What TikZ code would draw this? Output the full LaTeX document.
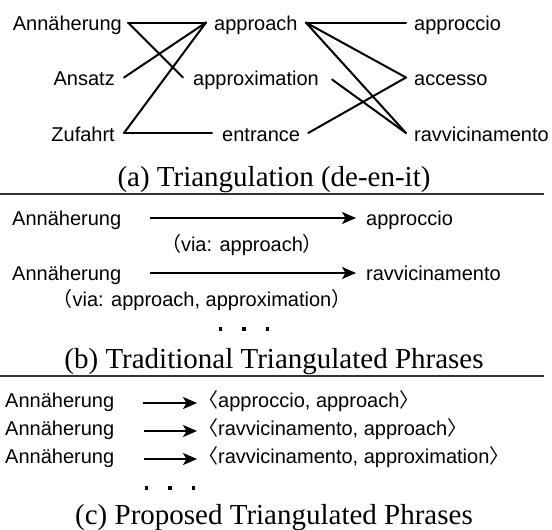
\documentclass[tikz,border=0pt]{standalone}
\usepackage{fontspec}
\setmainfont{Liberation Serif}
\setsansfont{Liberation Sans}
\newfontfamily\cjk{Noto Sans CJK JP}
\usetikzlibrary{arrows.meta}
\newcommand{\sqdot}{\rule{3.2pt}{3.2pt}}
\begin{document}
\begin{tikzpicture}[x=1pt,y=-1pt,
  word/.style={inner sep=0pt, font=\sffamily\fontsize{20}{24}\selectfont},
  captxt/.style={inner sep=0pt, anchor=base, font=\fontsize{29}{34}\selectfont},
  link/.style={line width=2pt, line cap=round},
  arr/.style={line width=2pt, -{Stealth[length=14pt,width=12pt,inset=3.5pt]}},
  rulel/.style={line width=1.2pt, black!80}]
\useasboundingbox (0,0) rectangle (552,530);
% ---------- (a) ----------
\node[word, anchor=base east] (ann) at (122,30.5) {Annäherung};
\node[word, anchor=base east] (ans) at (115,85.5) {Ansatz};
\node[word, anchor=base east] (zuf) at (115,141) {Zufahrt};
\node[word, anchor=base west] (appr) at (214,30.5) {approach};
\node[word, anchor=base west] (apx) at (193,85.5) {approximation};
\node[word, anchor=base west] (ent) at (222,141) {entrance};
\node[word, anchor=base west] (apc) at (414,30.5) {approccio};
\node[word, anchor=base west] (acc) at (414,85.5) {accesso};
\node[word, anchor=base west] (rav) at (414,141) {ravvicinamento};
\draw[link] ([xshift=6pt,yshift=8pt]ann.base east) -- ([xshift=-8pt,yshift=8pt]appr.base west);
\draw[link] ([xshift=6pt,yshift=8pt]ann.base east) -- ([xshift=-10pt,yshift=8pt]apx.base west);
\draw[link] ([xshift=9pt,yshift=8pt]ans.base east) -- ([xshift=-8pt,yshift=8pt]appr.base west);
\draw[link] ([xshift=9pt,yshift=8pt]zuf.base east) -- ([xshift=-8pt,yshift=8pt]appr.base west);
\draw[link] ([xshift=9pt,yshift=8pt]zuf.base east) -- ([xshift=-10pt,yshift=8pt]ent.base west);
\draw[link] ([xshift=8pt,yshift=8pt]appr.base east) -- ([xshift=-8pt,yshift=8pt]apc.base west);
\draw[link] ([xshift=8pt,yshift=8pt]appr.base east) -- ([xshift=-8pt,yshift=8pt]acc.base west);
\draw[link] ([xshift=8pt,yshift=8pt]appr.base east) -- ([xshift=-8pt,yshift=8pt]rav.base west);
\draw[link] ([xshift=13pt,yshift=6pt]apx.base east) -- ([xshift=-8pt,yshift=8pt]rav.base west);
\draw[link] ([xshift=8pt,yshift=8pt]ent.base east) -- ([xshift=-8pt,yshift=8pt]acc.base west);
\node[captxt] (capa) at (274,186) {(a) Triangulation (de-en-it)};
\draw[rulel] (0,194) -- (544,194);
% ---------- (b) ----------
\node[word, anchor=base west] (b1l) at (12,225) {Annäherung};
\node[word, anchor=base west] (b1r) at (366,225) {approccio};
\draw[arr] ([xshift=29pt,yshift=7pt]b1l.base east) -- ([xshift=-10pt,yshift=7pt]b1r.base west);
\node[word, anchor=base] (via1) at (242,251) {{\cjk （}via: approach{\cjk ）}};
\node[word, anchor=base west] (b2l) at (12,280) {Annäherung};
\node[word, anchor=base west] (b2r) at (366,280) {ravvicinamento};
\draw[arr] ([xshift=29pt,yshift=7pt]b2l.base east) -- ([xshift=-10pt,yshift=7pt]b2r.base west);
\node[word, anchor=base] (via2) at (202,306) {{\cjk （}via: approach, approximation{\cjk ）}};
\node[word, anchor=center] (dotsb) at (244,329) {\sqdot\hspace{20pt}\sqdot\hspace{20pt}\sqdot};
\node[captxt] (capb) at (274,368) {(b) Traditional Triangulated Phrases};
\draw[rulel] (0,376) -- (544,376);
% ---------- (c) ----------
\node[word, anchor=base west] (c1l) at (5,407) {Annäherung};
\node[word, anchor=base west] (c1r) at (198,407) {{\cjk 〈}approccio, approach{\cjk 〉}};
\node[word, anchor=base west] (c2l) at (5,435) {Annäherung};
\node[word, anchor=base west] (c2r) at (198,435) {{\cjk 〈}ravvicinamento, approach{\cjk 〉}};
\node[word, anchor=base west] (c3l) at (5,463) {Annäherung};
\node[word, anchor=base west] (c3r) at (198,463) {{\cjk 〈}ravvicinamento, approximation{\cjk 〉}};
\draw[arr] ([xshift=29pt,yshift=4pt]c1l.base east) -- ([xshift=-1pt,yshift=4pt]c1r.base west);
\draw[arr] ([xshift=30pt,yshift=4pt]c2l.base east) -- ([xshift=-1pt,yshift=4pt]c2r.base west);
\draw[arr] ([xshift=30pt,yshift=4pt]c3l.base east) -- ([xshift=-1pt,yshift=4pt]c3r.base west);
\node[word, anchor=center] (dotsc) at (170,488) {\sqdot\hspace{20pt}\sqdot\hspace{20pt}\sqdot};
\node[captxt] (capc) at (274,524) {(c) Proposed Triangulated Phrases};
\end{tikzpicture}
\end{document}
